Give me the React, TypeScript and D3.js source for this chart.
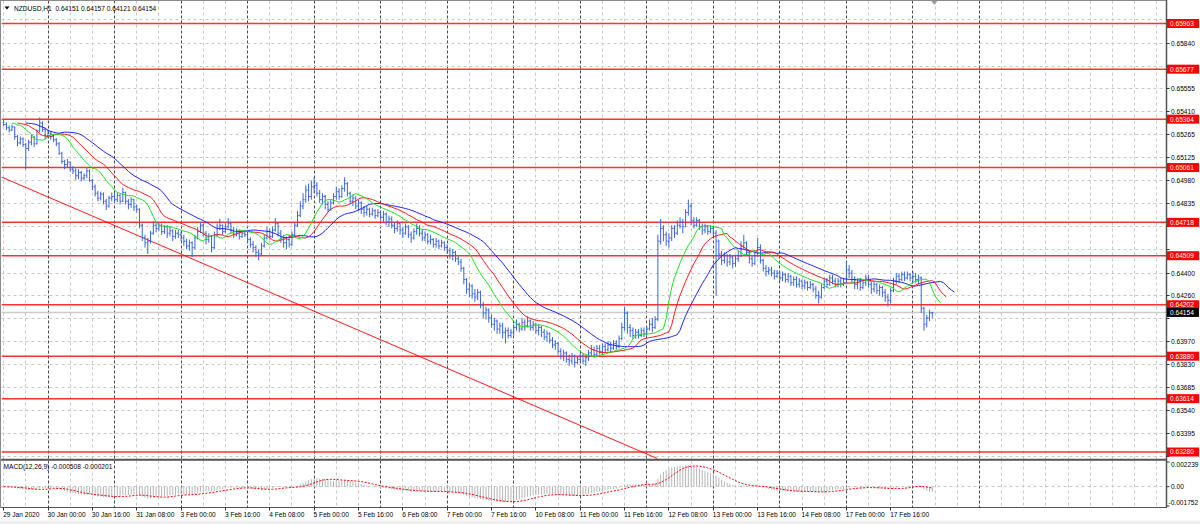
import { useRef, useEffect } from 'react';
import * as d3 from 'd3';

const WIDTH = 1200;
const HEIGHT = 524;
const FONT = '"Liberation Sans", Arial, sans-serif';

const symbolTitle = 'NZDUSD,H1  0.64151 0.64157 0.64121 0.64154';
const macdTitle = 'MACD(12,26,9) -0.000508 -0.000201';

// NZDUSD H1 bars, 29 Jan 2020 08:00 .. 18 Feb 2020 07:00
// prices in points above 0.60000 (4154 -> 0.64154), one row per trading day
const firstBarHour = 8;
const firstOpenPts = 5345;
const closePts = [
  5330, 5310, 5295, 5315, 5255, 5215, 5240, 5205, 5180, 5220, 5250, 5210, 5290, 5340, 5300, 5260,
  5275, 5255, 5235, 5210, 5150, 5100, 5080, 5095, 5050, 5040, 5010, 5030, 4995, 5010, 5040, 4980, 4940, 4900, 4870, 4895, 4850, 4820, 4870, 4880,
  4860, 4885, 4850, 4905, 4850, 4830, 4860, 4815, 4800, 4700, 4620, 4590, 4600, 4650, 4700, 4680, 4700, 4660, 4690, 4650, 4665, 4630, 4650, 4640,
  4620, 4600, 4570, 4590, 4560, 4620, 4660, 4700, 4650, 4610, 4630, 4560, 4640, 4680, 4700, 4660, 4690, 4710, 4670, 4640, 4660, 4630, 4650, 4640,
  4610, 4580, 4560, 4530, 4520, 4570, 4620, 4660, 4630, 4670, 4710, 4650, 4620, 4590, 4610, 4580, 4640, 4700, 4760, 4820, 4860, 4920, 4880, 4940,
  4950, 4900, 4860, 4880, 4830, 4800, 4840, 4880, 4910, 4880, 4930, 4960, 4900, 4850, 4870, 4820, 4840, 4800, 4780, 4800, 4770, 4790, 4760, 4780,
  4750, 4770, 4720, 4740, 4700, 4680, 4710, 4670, 4650, 4690, 4640, 4620, 4660, 4680, 4650, 4620, 4640, 4600, 4610, 4580, 4600, 4570, 4590, 4560,
  4540, 4510, 4530, 4490, 4470, 4430, 4360, 4300, 4320, 4270, 4250, 4280, 4200, 4150, 4170, 4120, 4080, 4100, 4050, 4070, 4030, 4040, 4010, 4030,
  4060, 4080, 4050, 4090, 4070, 4100, 4060, 4080, 4040, 4060, 4030, 4000, 4020, 3980, 3950, 3960, 3910, 3880, 3900, 3860, 3850, 3880, 3840, 3860,
  3880, 3850, 3870, 3900, 3920, 3890, 3930, 3910, 3940, 3920, 3950, 3930, 3960, 3940, 3990, 4060, 4150, 4060, 4040, 4010, 4030, 4010, 4040, 4020,
  4050, 4080, 4060, 4110, 4600, 4680, 4640, 4600, 4620, 4680, 4650, 4700, 4720, 4690, 4780, 4820, 4730, 4700, 4730, 4690, 4670, 4690, 4660, 4680,
  4650, 4600, 4520, 4480, 4510, 4470, 4500, 4460, 4490, 4510, 4570, 4590, 4530, 4490, 4460, 4510, 4560, 4480, 4430, 4410, 4420, 4400, 4380, 4400,
  4370, 4390, 4360, 4380, 4340, 4360, 4330, 4350, 4320, 4340, 4310, 4330, 4300, 4260, 4250, 4310, 4350, 4330, 4370, 4350, 4330, 4350, 4330, 4340,
  4420, 4400, 4360, 4330, 4350, 4310, 4340, 4370, 4330, 4300, 4330, 4290, 4310, 4280, 4250, 4230, 4290, 4350, 4380, 4360, 4390, 4370, 4390, 4370,
  4380, 4360, 4370, 4180, 4080, 4120, 4151, 4154,
];
const highPts = [
  5360, 5345, 5325, 5330, 5320, 5265, 5255, 5250, 5215, 5235, 5265, 5260, 5300, 5375, 5350, 5310,
  5300, 5290, 5270, 5245, 5220, 5160, 5110, 5115, 5100, 5070, 5055, 5050, 5040, 5025, 5060, 5050, 4990, 4955, 4915, 4910, 4905, 4865, 4885, 4905,
  4900, 4905, 4895, 4935, 4910, 4865, 4875, 4865, 4830, 4805, 4710, 4640, 4620, 4665, 4725, 4720, 4715, 4710, 4700, 4700, 4690, 4675, 4670, 4670,
  4660, 4640, 4615, 4610, 4600, 4640, 4690, 4720, 4710, 4665, 4650, 4640, 4660, 4710, 4740, 4705, 4710, 4745, 4720, 4690, 4680, 4670, 4665, 4670,
  4650, 4625, 4600, 4575, 4550, 4590, 4640, 4690, 4680, 4690, 4745, 4720, 4670, 4640, 4630, 4640, 4660, 4720, 4790, 4850, 4900, 4950, 4960, 4980,
  5000, 4970, 4920, 4900, 4890, 4850, 4860, 4900, 4940, 4930, 4950, 5000, 4970, 4910, 4890, 4880, 4860, 4850, 4820, 4820, 4810, 4810, 4800, 4800,
  4790, 4790, 4780, 4760, 4755, 4720, 4730, 4720, 4690, 4710, 4700, 4660, 4680, 4710, 4700, 4670, 4660, 4650, 4640, 4620, 4620, 4610, 4610, 4600,
  4580, 4560, 4550, 4540, 4510, 4490, 4440, 4370, 4340, 4330, 4300, 4300, 4290, 4220, 4190, 4180, 4140, 4120, 4110, 4090, 4090, 4060, 4060, 4050,
  4080, 4110, 4090, 4120, 4110, 4130, 4110, 4100, 4090, 4080, 4070, 4050, 4040, 4030, 4000, 3980, 3970, 3930, 3920, 3910, 3890, 3900, 3890, 3880,
  3900, 3900, 3890, 3920, 3950, 3940, 3950, 3950, 3960, 3960, 3970, 3970, 3980, 3980, 4010, 4090, 4190, 4160, 4080, 4060, 4050, 4050, 4060, 4060,
  4070, 4110, 4120, 4130, 4640, 4740, 4700, 4660, 4650, 4700, 4700, 4730, 4750, 4740, 4800, 4860, 4840, 4750, 4750, 4740, 4710, 4710, 4700, 4700,
  4690, 4670, 4610, 4540, 4530, 4520, 4520, 4510, 4510, 4540, 4600, 4640, 4600, 4540, 4510, 4530, 4620, 4580, 4490, 4450, 4440, 4440, 4420, 4420,
  4410, 4410, 4400, 4400, 4390, 4380, 4380, 4370, 4360, 4360, 4350, 4350, 4340, 4320, 4290, 4330, 4370, 4370, 4390, 4390, 4370, 4370, 4370, 4370,
  4470, 4450, 4420, 4380, 4370, 4370, 4360, 4390, 4390, 4350, 4350, 4340, 4330, 4320, 4300, 4270, 4310, 4370, 4400, 4400, 4410, 4410, 4410, 4400,
  4410, 4400, 4390, 4380, 4190, 4140, 4170, 4157,
];
const lowPts = [
  5320, 5295, 5280, 5290, 5235, 5195, 5205, 5190, 5050, 5165, 5200, 5190, 5205, 5280, 5285, 5240,
  5245, 5235, 5220, 5195, 5140, 5085, 5050, 5060, 5035, 5020, 4985, 4990, 4975, 4980, 4995, 4970, 4920, 4880, 4850, 4855, 4830, 4795, 4810, 4850,
  4840, 4845, 4830, 4845, 4830, 4800, 4810, 4790, 4780, 4680, 4600, 4560, 4520, 4585, 4640, 4655, 4665, 4640, 4645, 4620, 4630, 4600, 4615, 4620,
  4600, 4570, 4550, 4540, 4500, 4550, 4610, 4650, 4630, 4580, 4590, 4530, 4550, 4630, 4670, 4640, 4650, 4680, 4650, 4620, 4630, 4610, 4620, 4625,
  4590, 4560, 4530, 4500, 4480, 4510, 4560, 4610, 4610, 4620, 4660, 4630, 4590, 4560, 4550, 4560, 4570, 4630, 4690, 4750, 4800, 4840, 4850, 4860,
  4900, 4880, 4840, 4830, 4800, 4780, 4790, 4830, 4860, 4860, 4870, 4910, 4880, 4830, 4820, 4800, 4790, 4770, 4750, 4760, 4750, 4760, 4740, 4750,
  4730, 4720, 4700, 4690, 4680, 4650, 4660, 4640, 4620, 4640, 4620, 4590, 4610, 4640, 4630, 4600, 4600, 4580, 4580, 4560, 4560, 4550, 4560, 4540,
  4520, 4490, 4480, 4470, 4450, 4410, 4330, 4270, 4250, 4240, 4220, 4230, 4180, 4120, 4110, 4090, 4060, 4040, 4020, 4020, 3990, 3960, 3990, 3995,
  4010, 4040, 4030, 4040, 4040, 4060, 4040, 4040, 4020, 4010, 4000, 3980, 3970, 3960, 3930, 3920, 3890, 3860, 3850, 3840, 3820, 3830, 3810, 3830,
  3840, 3830, 3820, 3850, 3880, 3870, 3880, 3890, 3890, 3900, 3910, 3900, 3920, 3920, 3930, 3980, 4040, 4020, 4000, 3990, 3990, 3990, 4000, 4000,
  4010, 4040, 4030, 4050, 4100, 4580, 4600, 4570, 4560, 4600, 4620, 4640, 4680, 4650, 4690, 4760, 4700, 4680, 4690, 4670, 4640, 4650, 4640, 4650,
  4630, 4260, 4490, 4450, 4460, 4440, 4450, 4430, 4440, 4470, 4500, 4550, 4510, 4460, 4440, 4450, 4500, 4460, 4410, 4380, 4390, 4380, 4360, 4370,
  4350, 4350, 4340, 4340, 4320, 4320, 4310, 4310, 4300, 4300, 4290, 4300, 4280, 4240, 4210, 4240, 4300, 4310, 4320, 4330, 4310, 4310, 4310, 4320,
  4330, 4370, 4340, 4300, 4300, 4290, 4300, 4320, 4310, 4270, 4280, 4270, 4260, 4250, 4220, 4190, 4210, 4280, 4330, 4340, 4350, 4350, 4360, 4350,
  4350, 4340, 4330, 4150, 4040, 4060, 4100, 4121,
];

const priceTicks = [
  0.65985, 0.6584, 0.65695, 0.65555, 0.6541, 0.65265, 0.65125, 0.6498, 0.64835, 0.6469,
  0.64545, 0.644, 0.6426, 0.64115, 0.6397, 0.6383, 0.63685, 0.6354, 0.63395, 0.6325,
];
const levelPrices = [0.65963, 0.65677, 0.65364, 0.65061, 0.64718, 0.64509, 0.64202, 0.6388, 0.63614, 0.6328];
const bidPrice = 0.64154;
const trendBars = [0, 200];
const trendPrices = [0.64996, 0.63506];
const priceDomain = [0.632394, 0.661039];

const timeLabels = [
  '29 Jan 2020', '30 Jan 00:00', '30 Jan 16:00', '31 Jan 08:00', '3 Feb 00:00', '3 Feb 16:00', '4 Feb 08:00',
  '5 Feb 00:00', '5 Feb 16:00', '6 Feb 08:00', '7 Feb 00:00', '7 Feb 16:00', '10 Feb 08:00', '11 Feb 00:00',
  '11 Feb 16:00', '12 Feb 08:00', '13 Feb 00:00', '13 Feb 16:00', '14 Feb 08:00', '17 Feb 00:00', '17 Feb 16:00',
];
const barsPerLabel = 16;

const macdTickValues = [0.002239, 0, -0.001752];
const macdTickText = ['0.002239', '0.00', '-0.001752'];

// Alligator: jaw / teeth / lips as SMMA of median price, shifted forward
const alligator = [
  { period: 13, shift: 8, color: '#2020ff' },
  { period: 8, shift: 5, color: '#ff1a1a' },
  { period: 5, shift: 3, color: '#1ee01e' },
];

interface Bar { i: number; open: number; high: number; low: number; close: number; }

function smma(values: number[], n: number) {
  const out: number[] = [];
  let prev = values[0];
  values.forEach((v, i) => {
    prev = i === 0 ? v : (prev * (n - 1) + v) / n;
    out.push(prev);
  });
  return out;
}

function ema(values: number[], n: number) {
  const k = 2 / (n + 1);
  const out: number[] = [];
  let prev = values[0];
  values.forEach((v, i) => {
    prev = i === 0 ? v : v * k + prev * (1 - k);
    out.push(prev);
  });
  return out;
}

// snap a coordinate to the middle of a pixel so 1px grid lines stay crisp
const crisp = (v: number) => Math.round(v - 0.5) + 0.5;

export default function App() {
  const svgRef = useRef<SVGSVGElement>(null);

  useEffect(() => {
    if (!svgRef.current) return;
    const svg = d3.select(svgRef.current);
    svg.selectAll('*').remove();

    const plotLeft = 1.5;
    const plotRight = 1166.5;
    const mainTop = 0.5;
    const mainBottom = 459.5;
    const macdTop = 460.5;
    const macdBottom = 507.5;

    const toPrice = (p: number) => 0.6 + p / 100000;
    const bars: Bar[] = closePts.map((c, i) => {
      const open = toPrice(i === 0 ? firstOpenPts : closePts[i - 1]);
      const close = toPrice(c);
      return {
        i,
        open,
        close,
        high: Math.max(toPrice(highPts[i]), open, close),
        low: Math.min(toPrice(lowPts[i]), open, close),
      };
    });
    const last = bars.length - 1;

    const x = d3.scaleLinear().domain([0, last]).range([3.65, 932.3]);
    const y = d3.scaleLinear().domain(priceDomain).range([458.5, 1]);
    const yM = d3.scaleLinear().domain([macdTickValues[2], macdTickValues[0]]).range([506, 462]);

    svg.append('rect').attr('width', WIDTH).attr('height', HEIGHT).attr('fill', '#ffffff');

    const defs = svg.append('defs');
    defs.append('clipPath').attr('id', 'clip-main')
      .append('rect').attr('x', plotLeft).attr('y', mainTop)
      .attr('width', plotRight - plotLeft).attr('height', mainBottom - mainTop);
    defs.append('clipPath').attr('id', 'clip-macd')
      .append('rect').attr('x', plotLeft).attr('y', macdTop)
      .attr('width', plotRight - plotLeft).attr('height', macdBottom - macdTop);

    const main = svg.append('g').attr('clip-path', 'url(#clip-main)');
    const sub = svg.append('g').attr('clip-path', 'url(#clip-macd)');

    // vertical grid: every 8 bars, day separators darker
    const gridIdx = d3.range(0, 420, 8).filter((i) => x(i) < plotRight);
    const isDayStart = (i: number) => (firstBarHour + i) % 24 === 0 && i <= last + 17;
    [main, sub].forEach((g, k) => {
      const top = k === 0 ? mainTop : macdTop;
      const bottom = k === 0 ? mainBottom : macdBottom;
      gridIdx.forEach((i) => {
        const day = isDayStart(i);
        g.append('line')
          .attr('x1', crisp(x(i))).attr('x2', crisp(x(i)))
          .attr('y1', top).attr('y2', bottom)
          .attr('stroke', day ? '#484848' : '#c8c8c8')
          .attr('stroke-width', 1)
          .attr('stroke-dasharray', day ? '3,2' : '3,3');
      });
    });

    // horizontal grid
    priceTicks.forEach((t) => {
      main.append('line')
        .attr('x1', plotLeft).attr('x2', plotRight)
        .attr('y1', crisp(y(t))).attr('y2', crisp(y(t)))
        .attr('stroke', '#c8c8c8').attr('stroke-dasharray', '3,3');
    });
    sub.append('line')
      .attr('x1', plotLeft).attr('x2', plotRight)
      .attr('y1', crisp(yM(0))).attr('y2', crisp(yM(0)))
      .attr('stroke', '#c8c8c8').attr('stroke-dasharray', '3,3');

    // bid line
    main.append('line')
      .attr('x1', plotLeft).attr('x2', plotRight)
      .attr('y1', y(bidPrice)).attr('y2', y(bidPrice))
      .attr('stroke', '#cccccc').attr('stroke-width', 1.4);

    // horizontal levels
    levelPrices.forEach((p) => {
      main.append('line')
        .attr('x1', plotLeft).attr('x2', plotRight)
        .attr('y1', y(p)).attr('y2', y(p))
        .attr('stroke', '#ff3030').attr('stroke-width', 1.5);
    });

    // trend line, extended to the panel bottom
    const slope = (trendPrices[1] - trendPrices[0]) / (trendBars[1] - trendBars[0]);
    const endBar = trendBars[0] + (priceDomain[0] - trendPrices[0]) / slope;
    main.append('line')
      .attr('x1', plotLeft).attr('y1', y(trendPrices[0] + slope * x.invert(plotLeft)))
      .attr('x2', x(endBar)).attr('y2', y(priceDomain[0]))
      .attr('stroke', '#ff0000').attr('stroke-width', 0.9);

    // OHLC bars
    const barPath = bars.map((b) => {
      const bx = x(b.i);
      return `M${bx},${y(b.high)}V${y(b.low)}M${bx - 1.2},${y(b.open)}H${bx}M${bx},${y(b.close)}H${bx + 1.2}`;
    }).join('');
    main.append('path')
      .attr('d', barPath)
      .attr('fill', 'none')
      .attr('stroke', '#3a64de')
      .attr('stroke-width', 1);

    // Alligator lines
    const median = bars.map((b) => (b.high + b.low) / 2);
    alligator.forEach((a) => {
      const vals = smma(median, a.period);
      const line = d3.line<number>()
        .x((_, i) => x(i + a.shift))
        .y((v) => y(v));
      main.append('path')
        .datum(vals)
        .attr('d', line)
        .attr('fill', 'none')
        .attr('stroke', a.color)
        .attr('stroke-width', 1);
    });

    // MACD (12,26,9)
    const closes = bars.map((b) => b.close);
    const e12 = ema(closes, 12);
    const e26 = ema(closes, 26);
    const macd = closes.map((_, i) => e12[i] - e26[i]);
    const signal = macd.map((_, i) => d3.mean(macd.slice(Math.max(0, i - 8), i + 1)) as number);
    const clampM = (v: number) => Math.max(macdTickValues[2], Math.min(macdTickValues[0], v));

    sub.append('path')
      .attr('d', macd.map((v, i) => `M${x(i)},${yM(0)}V${yM(clampM(v))}`).join(''))
      .attr('stroke', '#b4b4b4')
      .attr('stroke-width', 1)
      .attr('fill', 'none');

    sub.append('path')
      .datum(signal)
      .attr('d', d3.line<number>().x((_, i) => x(i)).y((v) => yM(clampM(v))))
      .attr('fill', 'none')
      .attr('stroke', '#ff0000')
      .attr('stroke-width', 1)
      .attr('stroke-dasharray', '2,1.5');

    // panel frames
    [[mainTop, mainBottom], [macdTop, macdBottom]].forEach(([t, b]) => {
      svg.append('rect')
        .attr('x', plotLeft - 1).attr('y', t)
        .attr('width', plotRight - plotLeft + 1).attr('height', b - t)
        .attr('fill', 'none')
        .attr('stroke', '#8a8a8a');
    });
    svg.append('line')
      .attr('x1', plotRight).attr('x2', plotRight)
      .attr('y1', 0).attr('y2', macdBottom)
      .attr('stroke', '#555555').attr('stroke-width', 1.5);
    svg.append('line')
      .attr('x1', plotLeft).attr('x2', plotRight)
      .attr('y1', mainBottom).attr('y2', mainBottom)
      .attr('stroke', '#555555').attr('stroke-width', 1.5);
    svg.append('line')
      .attr('x1', plotLeft).attr('x2', plotRight)
      .attr('y1', macdBottom).attr('y2', macdBottom)
      .attr('stroke', '#555555').attr('stroke-width', 1);

    const text = (g: d3.Selection<any, unknown, null, undefined>, tx: number, ty: number, s: string, fill = '#000000') =>
      g.append('text')
        .attr('x', tx).attr('y', ty)
        .attr('font-family', FONT)
        .attr('font-size', 6.6)
        .attr('fill', fill)
        .text(s);

    // price axis; labels hidden where a marker label sits on top of them
    const markerPrices = [...levelPrices, bidPrice];
    priceTicks.forEach((t) => {
      svg.append('line')
        .attr('x1', plotRight).attr('x2', plotRight + 3)
        .attr('y1', crisp(y(t))).attr('y2', crisp(y(t)))
        .attr('stroke', '#333333');
      const covered = markerPrices.some((p) => Math.abs(y(p) - y(t)) < 6.5);
      if (!covered) text(svg, 1171, y(t) + 2.4, t.toFixed(5));
    });
    levelPrices.forEach((p) => {
      svg.append('rect')
        .attr('x', plotRight + 0.5).attr('y', y(p) - 4.5)
        .attr('width', 32).attr('height', 9)
        .attr('fill', '#ff0000');
      text(svg, 1170, y(p) + 2.4, p.toFixed(5), '#ffffff');
    });
    svg.append('rect')
      .attr('x', plotRight + 0.5).attr('y', y(bidPrice) - 4.5)
      .attr('width', 32).attr('height', 9)
      .attr('fill', '#000000');
    text(svg, 1170, y(bidPrice) + 2.4, bidPrice.toFixed(5), '#ffffff');

    // MACD axis
    macdTickValues.forEach((v, k) => {
      const ty = Math.max(macdTop + 4, Math.min(macdBottom - 5, yM(v)));
      svg.append('line')
        .attr('x1', plotRight).attr('x2', plotRight + 3)
        .attr('y1', yM(v)).attr('y2', yM(v))
        .attr('stroke', '#333333');
      text(svg, k === 2 ? 1168.5 : 1171, ty + 2.4, macdTickText[k]);
    });

    // time axis
    timeLabels.forEach((s, k) => {
      const tx = x(k * barsPerLabel);
      svg.append('line')
        .attr('x1', crisp(tx)).attr('x2', crisp(tx))
        .attr('y1', macdBottom).attr('y2', macdBottom + 3)
        .attr('stroke', '#333333');
      text(svg, tx - 0.5, 517, s);
    });
    svg.append('rect')
      .attr('x', 0).attr('y', 520.5)
      .attr('width', WIDTH).attr('height', 4)
      .attr('fill', '#f0f0f0');

    // titles
    svg.append('path')
      .attr('d', 'M4.5,6.5H9.5L7,9.5Z')
      .attr('fill', '#000000');
    text(svg, 14, 10.5, symbolTitle).attr('xml:space', 'preserve');
    text(svg, 3.5, 469, macdTitle);

    // chart shift marker
    const sx = x(last) + 2;
    svg.append('path')
      .attr('d', `M${sx - 3},1H${sx + 3}L${sx},5Z`)
      .attr('fill', '#a0a0a0');
  }, []);

  return (
    <div style={{ position: 'absolute', left: 0, top: 0, width: WIDTH, height: HEIGHT }}>
      <svg ref={svgRef} width={WIDTH} height={HEIGHT} style={{ display: 'block' }} />
    </div>
  );
}
